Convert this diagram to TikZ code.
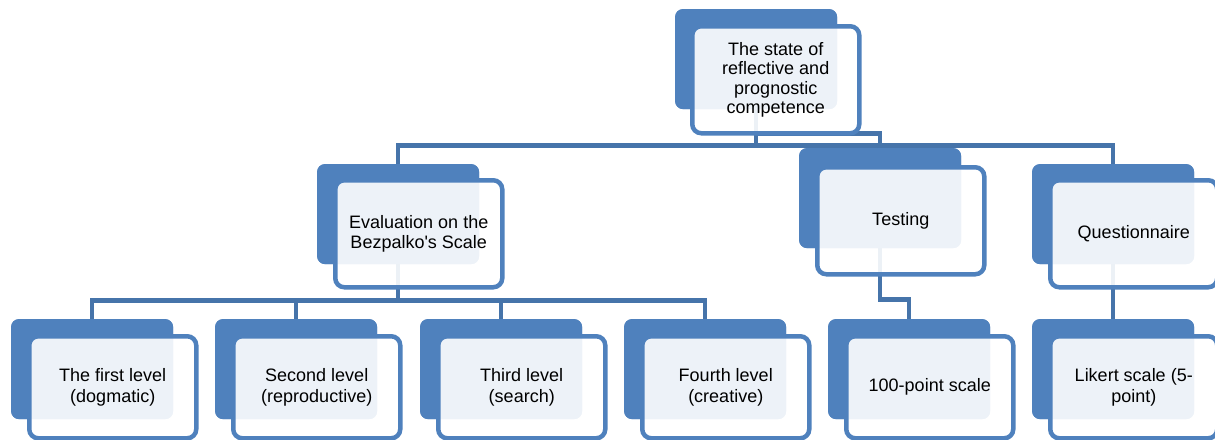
\documentclass[tikz,border=0pt]{standalone}
\usepackage{fontspec}
\setmainfont{Liberation Sans}[Ligatures=TeXOff]
\definecolor{acc}{HTML}{4F81BD}
\definecolor{conn}{HTML}{4674AA}
\begin{document}
\begin{tikzpicture}[x=1pt,y=-1pt,
  backbox/.style={fill=acc,draw=none,rounded corners=8pt,minimum width=162pt,minimum height=100pt,inner sep=0pt,anchor=north west},
  frontbox/.style={fill=white,fill opacity=0.9,text opacity=1,draw=acc,line width=4.5pt,rounded corners=9pt,
    minimum width=167pt,minimum height=107pt,inner sep=0pt,anchor=north west,align=center,
    font=\fontsize{18}{20.5}\selectfont,text=black},
  frontlow/.style={frontbox,minimum height=102pt},
  link/.style={draw=conn,line width=4.5pt}]
\useasboundingbox (0,0) rectangle (1215,439);

% back boxes
\node[backbox] (topB) at (675,9) {};
\node[backbox] (evB) at (317,164) {};
\node[backbox] (teB) at (799,148) {};
\node[backbox] (quB) at (1032,164) {};
\node[backbox] (l1B) at (11,319) {};
\node[backbox] (l2B) at (215,319) {};
\node[backbox] (l3B) at (420,319) {};
\node[backbox] (l4B) at (624,319) {};
\node[backbox] (hpB) at (828,319) {};
\node[backbox] (lkB) at (1032,319) {};

% connectors
\draw[link] (topB.south) -- ++(0,36) -| (evB.north);
\draw[link] (topB.south) -- ++(0,36) -| (quB.north);
\draw[link] (topB.south) -- ++(0,24) -| (teB.north);
\draw[link] (evB.south) -- ++(0,36) -| (l1B.north);
\draw[link] (evB.south) -- ++(0,36) -| (l2B.north);
\draw[link] (evB.south) -- ++(0,36) -| (l3B.north);
\draw[link] (evB.south) -- ++(0,36) -| (l4B.north);
\draw[link] (teB.south) -- ++(0,51) -| (hpB.north);
\draw[link] (quB.south) -- (lkB.north);

% redraw back boxes above connector ends
\foreach \x/\y in {675/9,317/164,799/148,1032/164,11/319,215/319,420/319,624/319,828/319,1032/319}
  \fill[acc,rounded corners=8pt] (\x,\y) rectangle ++(162,100);

% front boxes with text
\node[frontbox,font=\fontsize{18}{19.2}\selectfont] (topF) at (690,24) {The state of\\reflective and\\prognostic\\competence};
\node[frontbox] (evF) at (333,178) {Evaluation on the\\Bezpalko's Scale};
\node[frontbox] (teF) at (815,165) {Testing};
\node[frontbox] (quF) at (1048,178) {Questionnaire};
\node[frontlow] (l1F) at (27,334) {The first level\\(dogmatic)};
\node[frontlow] (l2F) at (231,334) {Second level\\(reproductive)};
\node[frontlow] (l3F) at (436,334) {Third level\\(search)};
\node[frontlow] (l4F) at (640,334) {Fourth level\\(creative)};
\node[frontlow] (hpF) at (844,334) {100-point scale};
\node[frontlow] (lkF) at (1048,334) {Likert scale (5-\\point)};
\end{tikzpicture}
\end{document}
